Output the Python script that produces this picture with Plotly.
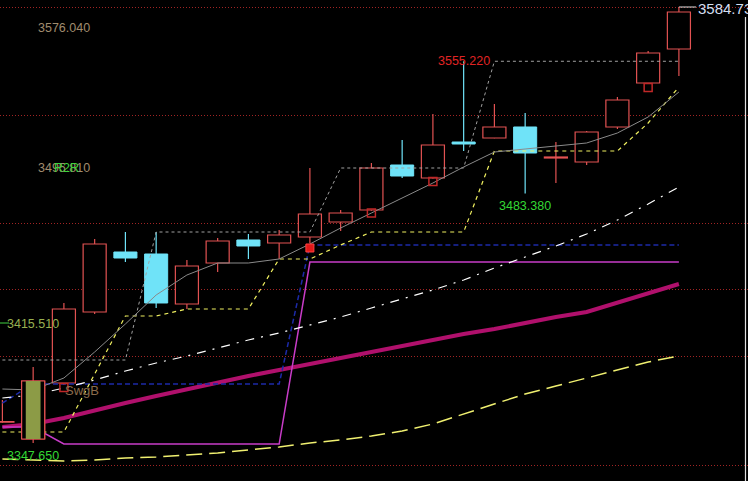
import plotly.graph_objects as go

# ---------------- data (prices) ----------------
idx = list(range(23))
opens  = [3358.96, 3349.81, 3380.26, 3418.87, 3451.50, 3450.41, 3423.22, 3445.52, 3458.03, 3456.40,
          3459.66, 3467.82, 3474.34, 3498.81, 3491.74, 3511.32, 3513.50, 3519.48, 3502.62, 3500.44,
          3519.48, 3543.40, 3561.89]
closes = [3359.06, 3381.35, 3420.51, 3455.85, 3448.24, 3423.77, 3443.89, 3457.48, 3454.77, 3460.75,
          3472.17, 3472.71, 3497.18, 3492.83, 3509.69, 3510.23, 3519.48, 3505.34, 3503.16, 3516.76,
          3534.16, 3559.72, 3582.01]
highs  = [3371.02, 3388.97, 3423.77, 3458.57, 3462.38, 3462.38, 3447.15, 3459.12, 3461.29, 3463.47,
          3497.18, 3474.34, 3499.90, 3512.41, 3526.55, 3555.22, 3531.98, 3527.09, 3511.32, 3517.30,
          3535.79, 3560.81, 3584.73]
lows   = [3358.51, 3347.65, 3379.18, 3417.79, 3446.06, 3421.05, 3420.51, 3440.63, 3447.70, 3447.70,
          3456.40, 3462.92, 3474.00, 3491.74, 3491.50, 3506.43, 3513.30, 3483.38, 3489.02, 3498.81,
          3518.39, 3543.20, 3547.21]
highlight_idx = [1]

ma_grey = [3377.00, 3376.46, 3382.98, 3397.12, 3412.35, 3428.12, 3438.99, 3445.52, 3445.52, 3447.70,
           3455.85, 3464.55, 3472.71, 3480.87, 3489.02, 3497.73, 3505.88, 3507.51, 3509.15, 3510.78,
           3516.21, 3524.92, 3538.51]
upper_step = [3392.77] * 5 + [3462.38] * 6 + [3497.18] * 5 + [3555.22] * 7
trail_step = [3353.62, 3353.62, 3353.62, 3385.16, 3416.70, 3416.70, 3420.51, 3420.51, 3420.51, 3447.70,
              3447.70, 3455.31, 3462.38, 3462.38, 3462.38, 3462.38, 3506.43, 3506.43, 3506.43, 3506.43,
              3506.43, 3521.65, 3541.23]
blue_step = [3369.39] + [3379.72] * 9 + [3455.31] * 13
violet_step = [3356.34, 3356.34] + [3347.09] * 8 + [3446.06] * 13
ma_thick = [3356.34, 3357.97, 3361.23, 3365.58, 3369.39, 3373.20, 3377.00, 3380.26, 3384.07, 3387.33,
            3390.60, 3393.86, 3397.12, 3400.39, 3403.65, 3406.91, 3409.63, 3412.89, 3416.16, 3418.87,
            3423.77, 3428.66, 3434.10]
white_line = [3372.11, 3373.74, 3377.55, 3381.90, 3386.79, 3391.14, 3394.95, 3399.30, 3403.65, 3407.45,
              3411.80, 3416.16, 3421.05, 3425.94, 3430.84, 3436.28, 3442.80, 3448.78, 3454.77, 3461.29,
              3468.90, 3477.60, 3486.85]
yellow_low = [3338.94, 3338.39, 3337.85, 3338.39, 3339.48, 3340.02, 3341.11, 3342.20, 3343.83, 3345.46,
              3347.64, 3349.27, 3351.44, 3354.16, 3357.97, 3363.41, 3368.84, 3374.28, 3378.63, 3382.98,
              3387.33, 3391.68, 3394.95]

signal_idx = [2, 12, 14, 21]
signal_price = [3377.80, 3472.71, 3489.84, 3540.96]
buy_idx = [10]
buy_price = [3453.68]

grid_levels = [3584.73, 3526.00, 3467.27, 3430.84, 3394.41, 3335.67]

# ---------------- styling ----------------
RED = "#e25252"
CYAN = "#6fe3f8"
OLIVE = "#8c9b46"
W, H = 748, 481
BODY_W = 0.75

fig = go.Figure()

def body_lists(sel):
    xs, base, hgt = [], [], []
    for i in sel:
        lo = min(opens[i], closes[i])
        xs.append(idx[i]); base.append(lo)
        hgt.append(max(abs(closes[i] - opens[i]), 0.3))
    return xs, base, hgt

up = [i for i in idx if closes[i] >= opens[i]]
dn = [i for i in idx if closes[i] < opens[i]]

def wick_xy(sel):
    xs, ys = [], []
    for i in sel:
        top = max(opens[i], closes[i]); bot = min(opens[i], closes[i])
        xs += [idx[i], idx[i], None, idx[i], idx[i], None]
        ys += [highs[i], top, None, bot, lows[i], None]
    return xs, ys

xs, b, h = body_lists(up)
fig.add_trace(go.Bar(x=xs, y=h, base=b, width=BODY_W, marker=dict(color="#000000", line=dict(color=RED, width=1.2))))
xs, b, h = body_lists(dn)
fig.add_trace(go.Bar(x=xs, y=h, base=b, width=BODY_W, marker=dict(color=CYAN, line=dict(color=CYAN, width=1))))

wx, wy = wick_xy(up)
fig.add_trace(go.Scatter(x=wx, y=wy, mode="lines", line=dict(color=RED, width=1.2), hoverinfo="skip"))
wx, wy = wick_xy(dn)
fig.add_trace(go.Scatter(x=wx, y=wy, mode="lines", line=dict(color=CYAN, width=1.2), hoverinfo="skip"))

def line(y, color, width, dash="solid"):
    fig.add_trace(go.Scatter(x=idx, y=y, mode="lines", line=dict(color=color, width=width, dash=dash),
                             hoverinfo="skip"))

line(yellow_low, "#f0f070", 1.5, "16px,7px")
line(ma_thick, "#b0106c", 4)
line(violet_step, "#c83cc8", 1.5)
line(blue_step, "#1c2aa8", 1.5, "5px,3px")
line(white_line, "#ffffff", 1.2, "9px,7px,2px,7px")
line(trail_step, "#f0f060", 1.2, "4px,4px")
line(upper_step, "#a0a0a0", 1, "3px,3px")
line(ma_grey, "#8a8a8a", 1)

for i in highlight_idx:
    lo = min(opens[i], closes[i]); hi = max(opens[i], closes[i])
    hw = BODY_W / 2
    fig.add_trace(go.Scatter(x=[i - hw, i + hw, i + hw, i - hw, i - hw], y=[lo, lo, hi, hi, lo],
                             mode="lines", fill="toself", fillcolor="#000000",
                             line=dict(color=RED, width=1.2), hoverinfo="skip"))
    iw = 0.24
    fig.add_trace(go.Scatter(x=[i - iw, i + iw, i + iw, i - iw, i - iw], y=[lo, lo, hi, hi, lo],
                             mode="lines", fill="toself", fillcolor=OLIVE,
                             line=dict(color=OLIVE, width=0), hoverinfo="skip"))

fig.add_trace(go.Scatter(x=signal_idx, y=signal_price, mode="markers",
                         marker=dict(symbol="square-open", size=8, color="#c02828", line=dict(width=1.5)),
                         hoverinfo="skip"))
fig.add_trace(go.Scatter(x=buy_idx, y=buy_price, mode="markers",
                         marker=dict(symbol="square", size=8, color="#e01818", line=dict(color="#ff4040", width=1)),
                         hoverinfo="skip"))

def px(x, y):
    return x / W, 1 - y / H

FONT = "Liberation Sans, Arial, sans-serif"
def label(text, x, y, color, size=12.5):
    ax, ay = px(x, y)
    fig.add_annotation(text=text, x=ax, y=ay, xref="paper", yref="paper", xanchor="left", yanchor="middle",
                       showarrow=False, font=dict(family=FONT, size=size, color=color), borderpad=0)

label("3576.040", 37, 28, "#a08c6e")
label("3495.810", 37, 168, "#a08c6e")
label("R2R", 53, 168, "#3cd23c")
label("3415.510", 6, 324, "#98b050")
label("3347.650", 6, 456, "#34d834")
label("3555.220", 437, 61, "#e02424")
label("3483.380", 498, 206, "#34d834")
label("SwgB", 64, 390, "#8c6c4c", 13)
label("3584.73", 697, 8, "#d4def0", 15)

fig.add_shape(type="line", xref="paper", yref="paper", x0=0, x1=9 / W, y0=1 - 323 / H, y1=1 - 323 / H,
              line=dict(color="#40d040", width=1))
fig.add_shape(type="line", xref="x", yref="y", x0=idx[-1], x1=idx[-1] + 0.56, y0=highs[-1], y1=highs[-1],
              line=dict(color="#e0e0e0", width=1))
fig.add_shape(type="line", xref="paper", yref="paper", x0=745.5 / W, x1=745.5 / W, y0=0, y1=1 - 17 / H,
              line=dict(color="#e0e0e0", width=1.2))

x0 = -2.4 / 30.75
x1 = (W - 2.4) / 30.75
fig.update_layout(
    width=W, height=H, margin=dict(l=0, r=0, t=0, b=0),
    paper_bgcolor="#000000", plot_bgcolor="#000000",
    showlegend=False, barmode="overlay",
    xaxis=dict(range=[x0, x1], visible=False, fixedrange=True),
    yaxis=dict(range=[3326.97, 3588.54], tickvals=grid_levels, showticklabels=False, ticks="",
               showgrid=True, gridcolor="#a02424", griddash="1px,2px", gridwidth=1,
               zeroline=False, showline=False, fixedrange=True),
)

fig.write_html("out.html", config={"displayModeBar": False},
               post_script="document.body.style.margin='0';document.body.style.padding='0';"
                           "document.body.style.background='#000';document.body.style.overflow='hidden';")
